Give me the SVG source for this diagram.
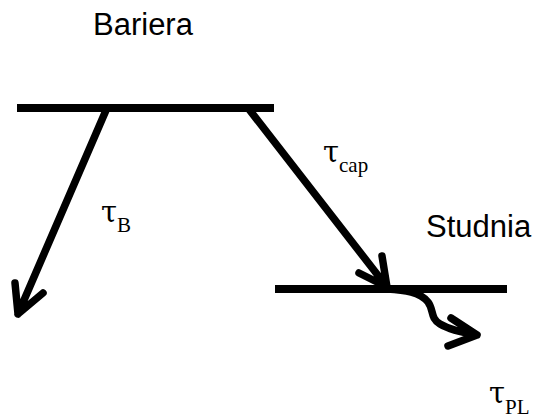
<svg xmlns="http://www.w3.org/2000/svg" width="533" height="418" viewBox="0 0 533 418">
<style>
.lvl{stroke:#000;stroke-width:8;fill:none;stroke-linecap:butt}
.arr{stroke:#000;stroke-width:7.5;fill:none;stroke-linecap:round;stroke-linejoin:round}
.lab{font-family:"Liberation Sans",Arial,sans-serif;font-size:31px;fill:#000}
.tau{font-family:"DejaVu Serif","Liberation Serif",serif;font-size:29px;fill:#000}
.sub{font-family:"Liberation Serif","DejaVu Serif",serif;font-size:21px;fill:#000}
</style>
<rect width="533" height="418" fill="#fff"/>
<g id="bariera">
<line class="lvl" x1="17" y1="108" x2="274" y2="108"/>
<text class="lab" x="93" y="35">Bariera</text>
</g>
<g id="studnia">
<line class="lvl" x1="275" y1="289" x2="507" y2="289"/>
<text class="lab" x="426" y="237">Studnia</text>
</g>
<g id="connectors">
<g id="tauB">
<path class="arr" d="M107,108 L18,314 M15,283 L18,314 L43,293"/>
</g>
<g id="tauCap">
<path class="arr" d="M248,108 L387,287 M382,256 L387,287 L359,273"/>
</g>
<g id="tauPL">
<path class="arr" d="M387,289 C405,290 420,292 428,302 C434,310 430,318 440,324 C450,330 465,333 477,335 M451,318 L477,335 L448,346"/>
</g>
</g>
<g id="labels">
<text x="101" y="222"><tspan class="tau">τ</tspan><tspan class="sub" dy="10">B</tspan></text>
<text x="323" y="162"><tspan class="tau">τ</tspan><tspan class="sub" dy="10">cap</tspan></text>
<text x="489" y="403"><tspan class="tau">τ</tspan><tspan class="sub" dy="11">PL</tspan></text>
</g>
</svg>
